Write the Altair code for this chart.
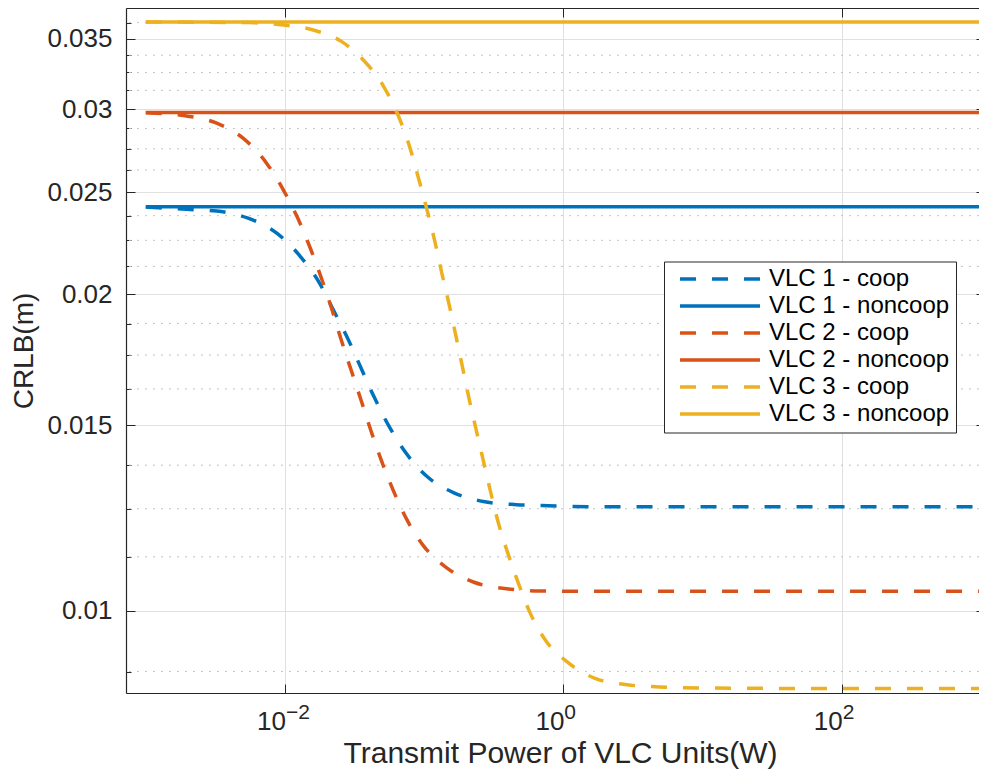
import altair as alt
import pandas as pd

# ---------------- values ----------------
series_names = ["VLC 1 - coop", "VLC 1 - noncoop", "VLC 2 - coop",
                "VLC 2 - noncoop", "VLC 3 - coop", "VLC 3 - noncoop"]
series_colors = ["#0072BD", "#0072BD", "#D95319", "#D95319", "#EDB120", "#EDB120"]
series_dashes = [[16, 16], [1, 0], [16, 16], [1, 0], [16, 16], [1, 0]]

vlc1_coop_log10_power = [-3.0, -2.705, -2.490, -2.265, -2.059, -1.892, -1.760, -1.652,
                         -1.549, -1.455, -1.360, -1.257, -1.137, -0.981, -0.790, -0.575,
                         -0.335, -0.108, 0.359, 1.0, 2.0, 3.0]
vlc1_coop_crlb = [0.02420, 0.02408, 0.02399, 0.02362, 0.02286, 0.02174, 0.02058, 0.01931,
                  0.01815, 0.01703, 0.01597, 0.01501, 0.01416, 0.01342, 0.01295, 0.01270,
                  0.01261, 0.01258, 0.01255, 0.01255, 0.01255, 0.01255]

vlc2_coop_log10_power = [-3.0, -2.718, -2.490, -2.299, -2.131, -2.011, -1.915, -1.820,
                         -1.741, -1.667, -1.599, -1.527, -1.455, -1.384, -1.307, -1.223,
                         -1.128, -1.006, -0.838, -0.642, -0.407, -0.167, 0.285, 1.0, 2.0, 3.0]
vlc2_coop_crlb = [0.02976, 0.02956, 0.02908, 0.02813, 0.02663, 0.02512, 0.02373, 0.02215,
                  0.02076, 0.01942, 0.01815, 0.01697, 0.01588, 0.01485, 0.01389, 0.01302,
                  0.01223, 0.01153, 0.01098, 0.01064, 0.01049, 0.01044, 0.01043, 0.01043,
                  0.01043, 0.01043]

vlc3_coop_log10_power = [-3.0, -2.263, -2.011, -1.796, -1.592, -1.437, -1.293, -1.191,
                         -1.108, -1.037, -0.979, -0.922, -0.874, -0.823, -0.774, -0.726,
                         -0.679, -0.629, -0.580, -0.524, -0.467, -0.399, -0.320, -0.239,
                         -0.131, 0.030, 0.228, 0.458, 0.687, 1.0, 2.0, 3.0]
vlc3_coop_crlb = [0.03630, 0.03625, 0.03606, 0.03567, 0.03477, 0.03340, 0.03155, 0.02967,
                  0.02772, 0.02568, 0.02404, 0.02241, 0.02097, 0.01961, 0.01830, 0.01708,
                  0.01594, 0.01491, 0.01398, 0.01299, 0.01212, 0.01134, 0.01059, 0.00995,
                  0.00938, 0.00893, 0.00862, 0.00850, 0.00846, 0.00844, 0.00843, 0.00843]

noncoop_log10_power = [-3.0, 3.0]
vlc1_noncoop_crlb = [0.02422, 0.02422]
vlc2_noncoop_crlb = [0.02978, 0.02978]
vlc3_noncoop_crlb = [0.03630, 0.03630]

x_tick_values = [0.01, 1, 100]
x_tick_base = ["10", "10", "10"]
x_tick_exponent = ["\u22122", "0", "2"]
y_major_ticks = [0.01, 0.015, 0.02, 0.025, 0.03, 0.035]
y_minor_ticks = [0.00875, 0.01125, 0.0125, 0.01375, 0.01625, 0.0175, 0.01875,
                 0.02125, 0.0225, 0.02375, 0.02625, 0.0275, 0.02875,
                 0.03125, 0.0325, 0.03375, 0.03625]

# ---------------- tables ----------------
rows = []
for name, lx, ys in [
    (series_names[0], vlc1_coop_log10_power, vlc1_coop_crlb),
    (series_names[1], noncoop_log10_power, vlc1_noncoop_crlb),
    (series_names[2], vlc2_coop_log10_power, vlc2_coop_crlb),
    (series_names[3], noncoop_log10_power, vlc2_noncoop_crlb),
    (series_names[4], vlc3_coop_log10_power, vlc3_coop_crlb),
    (series_names[5], noncoop_log10_power, vlc3_noncoop_crlb),
]:
    for l, y in zip(lx, ys):
        rows.append({"power": 10 ** l, "crlb": y, "series": name})
df = pd.DataFrame(rows)

tick_df = pd.DataFrame({"x": x_tick_values, "base": x_tick_base, "exp": x_tick_exponent})

FONT = "Liberation Sans"
AXC = "#262626"
xscale = alt.Scale(type="log", domain=[10 ** -3.142, 10 ** 2.986], nice=False)
yscale = alt.Scale(type="log", domain=[0.008348, 0.03743], nice=False)

legend = alt.Legend(
    title=None, orient="none", legendX=538, legendY=253.5,
    symbolType="stroke", symbolSize=6400, symbolStrokeWidth=3.5, clipHeight=23,
    labelFontSize=24, labelFont=FONT, labelColor="black", labelLimit=400,
    padding=6, rowPadding=2, symbolOffset=8, labelOffset=7,
    strokeColor=AXC, fillColor="white",
)

minor_grid = alt.Chart(pd.DataFrame({"v": y_minor_ticks})).mark_rule(
    color="#c4c4c4", strokeWidth=1, strokeDash=[2, 6]
).encode(
    y=alt.Y("v:Q", scale=yscale, axis=alt.Axis(
        orient="left", values=y_minor_ticks, labels=False, tickSize={"expr": "-5"},
        tickColor=AXC, tickWidth=1, grid=False, domain=False, title=None))
)

lines = alt.Chart(df).mark_line(strokeWidth=3.5, interpolate="monotone", clip=True).encode(
    x=alt.X("power:Q", scale=xscale, axis=alt.Axis(
        orient="bottom", values=x_tick_values, labels=False, tickSize={"expr": "-9"},
        tickColor=AXC, tickWidth=1, grid=True, gridColor="#e0e0e0", gridWidth=1,
        domain=True, domainColor=AXC, domainWidth=1.2,
        title="Transmit Power of VLC Units(W)", titleFont=FONT, titleFontSize=30,
        titleFontWeight="normal", titleColor=AXC, titleX=434, titleY=69,
        titleAlign="center", titleBaseline="alphabetic")),
    y=alt.Y("crlb:Q", scale=yscale, axis=alt.Axis(
        orient="left", values=y_major_ticks, format=".3~f", labelFont=FONT,
        labelFontSize=26, labelColor=AXC, labelPadding=23, tickSize={"expr": "-9"},
        tickColor=AXC, tickWidth=1, grid=True, gridColor="#e0e0e0", gridWidth=1,
        domain=True, domainColor=AXC, domainWidth=1.2,
        title="CRLB(m)", titleFont=FONT, titleFontSize=28, titleFontWeight="normal",
        titleColor=AXC, titlePadding=8)),
    color=alt.Color("series:N", sort=series_names,
                    scale=alt.Scale(domain=series_names, range=series_colors), legend=legend),
    strokeDash=alt.StrokeDash("series:N", sort=series_names,
                              scale=alt.Scale(domain=series_names, range=series_dashes),
                              legend=legend),
)

base_txt = alt.Chart(tick_df).mark_text(
    align="right", baseline="alphabetic", fontSize=26, font=FONT, color=AXC, dx=1
).encode(x=alt.X("x:Q", scale=xscale, axis=None), y=alt.value(722), text="base:N")

exp_txt = alt.Chart(tick_df).mark_text(
    align="left", baseline="alphabetic", fontSize=21, font=FONT, color=AXC, dx=1
).encode(x=alt.X("x:Q", scale=xscale, axis=None), y=alt.value(711), text="exp:N")

top_axis = alt.Chart(pd.DataFrame({"x": x_tick_values})).mark_rule(opacity=0).encode(
    x=alt.X("x:Q", scale=xscale, axis=alt.Axis(
        orient="top", values=x_tick_values, labels=False, tickSize={"expr": "-9"},
        tickColor=AXC, tickWidth=1, grid=False, domain=True, domainColor=AXC,
        domainWidth=1.2, title=None))
)

right_axis = alt.Chart(pd.DataFrame({"v": y_major_ticks})).mark_rule(opacity=0).encode(
    y=alt.Y("v:Q", scale=yscale, axis=alt.Axis(
        orient="right", values=y_major_ticks, labels=False, tickSize={"expr": "-3"},
        tickColor=AXC, tickWidth=1, grid=False, domain=False, title=None))
)

chart = alt.layer(minor_grid, lines, base_txt, exp_txt, top_axis, right_axis).resolve_axis(
    x="independent", y="independent"
).properties(
    width=853, height=685,
    padding={"left": 118, "top": 0, "right": 0, "bottom": 76},
    autosize=alt.AutoSizeParams(type="none"),
).configure_view(strokeWidth=0).configure(font=FONT, background="white")

chart.save("out.html", embed_options={"renderer": "svg", "actions": False})
